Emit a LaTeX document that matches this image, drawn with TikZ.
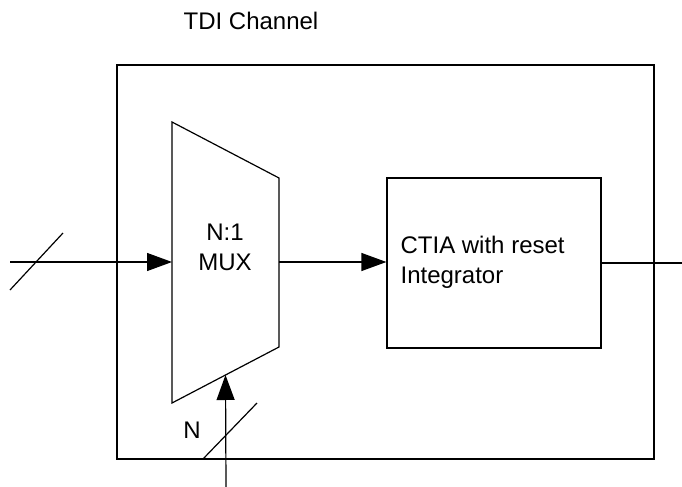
\documentclass[tikz,border=0pt]{standalone}
\usepackage{fontspec}
\setmainfont{Liberation Sans}
\usetikzlibrary{arrows.meta,calc}

\begin{document}
\begin{tikzpicture}[x=0.5pt, y=-0.5pt, line width=0.6pt,
                    sig/.style={-{Triangle[length=12.5pt,width=9pt]}},
                    lbl/.style={font=\fontsize{12}{15}\selectfont, inner sep=0pt},
                    blk/.style={draw, minimum width=107pt, minimum height=85pt}]
  \useasboundingbox (0,0) rectangle (682,487);
  % channel frame
  \node[lbl] (title) at (251,21) {TDI Channel};
  \draw (117,65) rectangle (654,459);
  % mux
  \coordinate (mux-tl) at (172,122);
  \coordinate (mux-tr) at (279,178);
  \coordinate (mux-br) at (279,347);
  \coordinate (mux-bl) at (172,403);
  \draw (mux-tl) -- (mux-tr) -- (mux-br) -- (mux-bl) -- cycle;
  \coordinate (mux-in) at (172,262);
  \coordinate (mux-out) at (279,262);
  \coordinate (mux-sel) at ($(mux-bl)!0.5!(mux-br)$);
  \node[lbl, align=center] (mux) at (225,247) {N:1\\MUX};
  % integrator
  \node[blk] (ctia) at (494,263) {};
  \node[lbl, align=left, anchor=west] (ctia-txt) at (400,262) {CTIA with reset\\Integrator};
  % signals
  \coordinate (in) at (10,262);
  \coordinate (out) at (682,263);
  \coordinate (sel) at (226,487);
  \draw[sig] (in) -- (mux-in);
  \draw (10,290) -- (63,233);
  \draw[sig] (mux-out) -- (mux-out -| ctia.west);
  \draw (ctia.east) -- (out);
  \draw[sig] (sel) -- (mux-sel);
  \draw (203,459) -- (257,403);
  \node[lbl] (sel-n) at (192,430) {N};
\end{tikzpicture}
\end{document}
